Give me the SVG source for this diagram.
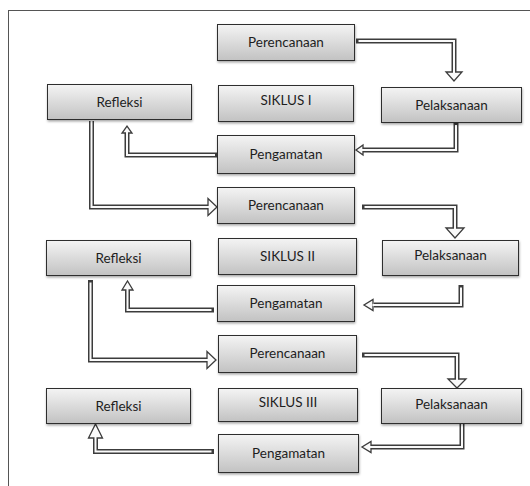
<svg xmlns="http://www.w3.org/2000/svg" width="530" height="486" viewBox="0 0 530 486">
<defs>
<linearGradient id="g" x1="0" y1="0" x2="0" y2="1">
<stop offset="0" stop-color="#f4f4f4"/>
<stop offset="1" stop-color="#c2c2c2"/>
</linearGradient>
<filter id="sh" x="-10%" y="-20%" width="120%" height="150%">
<feDropShadow dx="0.5" dy="1.5" stdDeviation="1" flood-color="#000" flood-opacity="0.35"/>
</filter>
<style>
.box{fill:url(#g);stroke:#2e2e2e;stroke-width:1;filter:url(#sh)}
.t{font-family:Lato,"Open Sans","Liberation Sans",sans-serif;font-size:13.5px;fill:#1e1e1e;text-anchor:middle}
.o{fill:none;stroke:#3c3c3c;stroke-width:5;stroke-linejoin:miter}
.i{fill:none;stroke:#fafafa;stroke-width:2;stroke-linejoin:miter}
.h{fill:#fafafa;stroke:#3c3c3c;stroke-width:1.3;stroke-linejoin:miter}
</style>
</defs>
<rect width="530" height="486" fill="#fff"/>
<rect x="8.5" y="10.5" width="560" height="520" fill="none" stroke="#555" stroke-width="1"/>

<g id="connectors">
<!-- C1 -->
<path class="o" d="M356,41 H454 V73"/>
<polygon class="h" points="446,72 462,72 454,81"/>
<path class="i" d="M358.5,41 H454 V73.5"/>
<!-- C2 -->
<path class="o" d="M456,123 V150 H362"/>
<polygon class="h" points="363,145 363,155 356,150"/>
<path class="i" d="M456,125 V150 H361.5"/>
<!-- C3 -->
<path class="o" d="M217,155 H127 V132"/>
<polygon class="h" points="122,133 132,133 127,126"/>
<path class="i" d="M215,155 H127 V131.5"/>
<!-- C4 -->
<path class="o" d="M91.5,121 V207 H209"/>
<polygon class="h" points="208,198.5 208,215.5 217,207"/>
<path class="i" d="M91.5,121 V207 H209.5"/>
<!-- C5 -->
<path class="o" d="M362,207 H455 V229"/>
<polygon class="h" points="446,228 464,228 455,238"/>
<path class="i" d="M364.5,207 H455 V229.5"/>
<!-- C6 -->
<path class="o" d="M461,285 V305 H374"/>
<polygon class="h" points="373,299.5 373,310.5 364,305"/>
<path class="i" d="M461,287.5 V305 H372.5"/>
<!-- C7 -->
<path class="o" d="M214,310 H127.5 V290"/>
<polygon class="h" points="122,290 133,290 127.5,281"/>
<path class="i" d="M211.5,310 H127.5 V288.5"/>
<!-- C8 -->
<path class="o" d="M90.5,280 V360 H208"/>
<polygon class="h" points="207,351.5 207,368.5 216,360"/>
<path class="i" d="M90.5,282.5 V360 H208.5"/>
<!-- C9 -->
<path class="o" d="M362,355 H457 V380"/>
<polygon class="h" points="448,379 466,379 457,388"/>
<path class="i" d="M364.5,355 H457 V380.5"/>
<!-- C10 -->
<path class="o" d="M462,423 V447 H371"/>
<polygon class="h" points="371,441.5 371,452.5 362,447"/>
<path class="i" d="M462,424 V447 H369.5"/>
<!-- C11 -->
<path class="o" d="M214,451.5 H95.5 V437"/>
<polygon class="h" points="88.5,438 102.5,438 95.5,424"/>
<path class="i" d="M211.5,451.5 H95.5 V436.5"/>
</g>

<g id="perencanaan1"><rect class="box" x="217.5" y="24.5" width="137" height="36"/><text class="t" x="286" y="47">Perencanaan</text></g>
<g id="refleksi1"><rect class="box" x="47.5" y="84.5" width="144" height="35"/><text class="t" x="119.5" y="106.5">Refleksi</text></g>
<g id="siklus1"><rect class="box" x="218.5" y="85.5" width="135" height="36"/><text class="t" x="286" y="104.5">SIKLUS I</text></g>
<g id="pelaksanaan1"><rect class="box" x="381.5" y="87.5" width="140" height="35"/><text class="t" x="451.5" y="109.5">Pelaksanaan</text></g>
<g id="pengamatan1"><rect class="box" x="217.5" y="135.5" width="137" height="38"/><text class="t" x="286" y="159">Pengamatan</text></g>

<g id="perencanaan2"><rect class="box" x="217.5" y="187.5" width="137" height="36"/><text class="t" x="286" y="210">Perencanaan</text></g>
<g id="refleksi2"><rect class="box" x="46.5" y="240.5" width="144" height="35"/><text class="t" x="118.5" y="262.5">Refleksi</text></g>
<g id="siklus2"><rect class="box" x="218.5" y="238.5" width="138" height="36"/><text class="t" x="287.5" y="261">SIKLUS II</text></g>
<g id="pelaksanaan2"><rect class="box" x="382.5" y="240.5" width="136" height="35"/><text class="t" x="450.5" y="260">Pelaksanaan</text></g>
<g id="pengamatan2"><rect class="box" x="217.5" y="285.5" width="137" height="36"/><text class="t" x="286" y="308">Pengamatan</text></g>

<g id="perencanaan3"><rect class="box" x="218.5" y="335.5" width="138" height="37"/><text class="t" x="287.5" y="358">Perencanaan</text></g>
<g id="refleksi3"><rect class="box" x="46.5" y="388.5" width="144" height="35"/><text class="t" x="118.5" y="410.5">Refleksi</text></g>
<g id="siklus3"><rect class="box" x="218.5" y="388.5" width="139" height="33"/><text class="t" x="288" y="406.5">SIKLUS III</text></g>
<g id="pelaksanaan3"><rect class="box" x="381.5" y="388.5" width="140" height="35"/><text class="t" x="451.5" y="408.5">Pelaksanaan</text></g>
<g id="pengamatan3"><rect class="box" x="218.5" y="434.5" width="140" height="38"/><text class="t" x="288.5" y="458">Pengamatan</text></g>
</svg>
